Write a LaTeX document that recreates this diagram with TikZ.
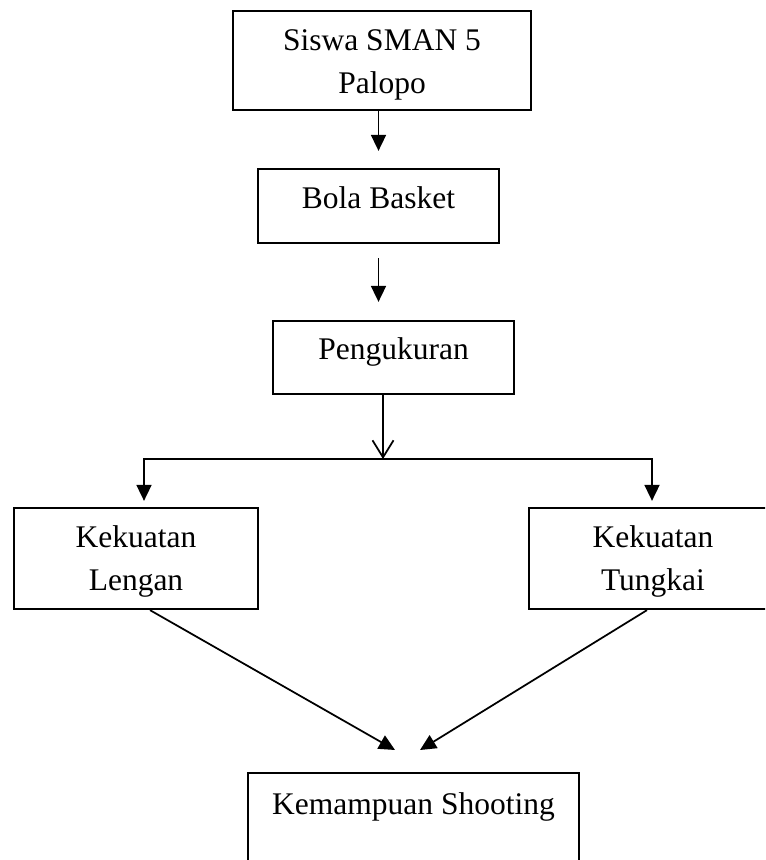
\documentclass[tikz,border=0pt]{standalone}
\usepackage{fontspec}
\setmainfont{Liberation Serif}
\usepackage{tikz}
\usetikzlibrary{arrows.meta}

\begin{document}
\begin{tikzpicture}[>={Triangle[width=6pt,length=6.4pt]}, line width=0.7pt, box/.style={draw, line width=0.9pt, align=center, inner sep=0pt, font=\fontsize{12.6pt}{17pt}\selectfont}, upper/.style={text height=9pt, text depth=7pt}]
\useasboundingbox (0pt, 0pt) rectangle (306pt, -344pt);
\clip (0pt, 0pt) rectangle (306pt, -344pt);
\draw (152.8pt, -24.2pt)node[box, minimum width=119.2pt, minimum height=39.6pt](0){\rule{0pt}{12pt}Siswa SMAN 5\\Palopo};
\draw (151.4pt, -82.4pt)node[box, upper, minimum width=96.4pt, minimum height=29.6pt](1){Bola Basket};
\draw (157.4pt, -143.0pt)node[box, upper, minimum width=96.4pt, minimum height=29.2pt](2){Pengukuran};
\draw (54.4pt, -223.4pt)node[box, minimum width=97.6pt, minimum height=40.4pt](3){\rule{0pt}{11pt}Kekuatan\\Lengan};
\draw (261.2pt, -223.4pt)node[box, minimum width=99.2pt, minimum height=40.4pt](4){\rule{0pt}{11pt}Kekuatan\\Tungkai};
\draw (165.4pt, -308.8pt)node[box, anchor=north, minimum width=132.4pt, text height=16.6pt, text depth=40pt](5){Kemampuan Shooting};
\coordinate (s) at (153.2pt, -183.6pt);
\draw[->, shorten >=6.8pt] (0.south -| 1.north) -- (1.north);
\draw[->, shorten <=5.6pt, shorten >=7.2pt] (1.south) -- (1.south |- 2.north);
\draw[-{Straight Barb[width=8.4pt,length=6.8pt]}] (2.south -| s) -- (s);
\draw[->, shorten >=2.4pt] (s) -| ([xshift=3.2pt]3.north);
\draw[->, shorten >=2.4pt] (s) -| ([xshift=-0.4pt]4.north);
\draw[->] ([xshift=5.6pt]3.south) -- ([xshift=-7.4pt, yshift=8.8pt]5.north);
\draw[->] ([xshift=-2.4pt]4.south) -- ([xshift=2.6pt, yshift=8.8pt]5.north);
\end{tikzpicture}
\end{document}
